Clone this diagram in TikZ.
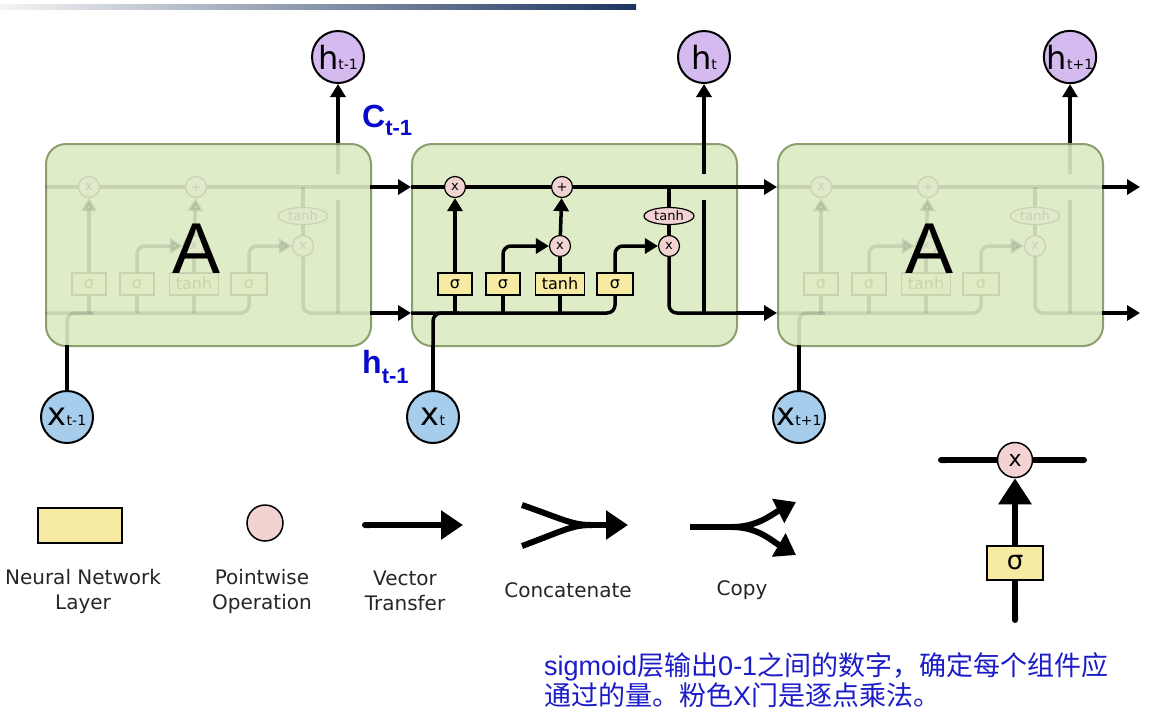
\documentclass[tikz,border=0pt]{standalone}
\usepackage{fontspec}
\setmainfont{DejaVu Sans}
\newfontfamily\arialfont{Liberation Sans}
\newfontfamily\cjkfont{Noto Sans CJK SC}
\usetikzlibrary{arrows.meta,shapes.geometric}
\definecolor{cellfill}{RGB}{222,236,200}
\definecolor{celledge}{RGB}{140,160,110}
\definecolor{layerfill}{RGB}{247,234,162}
\definecolor{opfill}{RGB}{243,210,210}
\definecolor{hfill}{RGB}{212,186,238}
\definecolor{xfill}{RGB}{166,205,236}
\definecolor{labelblue}{RGB}{10,10,205}
\definecolor{notetext}{RGB}{28,28,200}
\definecolor{barnavy}{RGB}{28,52,96}
\newcommand\circlabel[2]{{\fontsize{32}{32}\selectfont #1}{\fontsize{14}{14}\selectfont #2}}
\tikzset{
  flow/.style={line width=3.5pt},
  flowarr/.style={flow, -{Triangle[length=13pt,width=15pt]}},
  bigline/.style={line width=6pt},
  bigflow/.style={bigline, {Round Cap[]}-{Triangle[length=22pt,width=28pt]}},
  op/.style={circle, draw, line width=1.2pt, fill=opfill, minimum size=21pt,
    inner sep=0pt, font=\fontsize{13}{13}\selectfont},
  gate/.style={rectangle, draw, line width=1.2pt, fill=layerfill, minimum width=34pt,
    minimum height=22pt, inner sep=0pt, font=\fontsize{16}{16}\selectfont},
  tanhop/.style={ellipse, draw, line width=1.2pt, fill=opfill, minimum width=50pt,
    minimum height=17pt, inner sep=0pt, font=\fontsize{13}{13}\selectfont},
  cellbox/.style={draw=celledge, line width=2pt, fill=cellfill, rounded corners=20pt,
    minimum width=325pt, minimum height=202pt, anchor=north west, inner sep=0pt},
  hcirc/.style={circle, draw, line width=2pt, fill=hfill, minimum size=52pt, inner sep=0pt},
  xcirc/.style={circle, draw, line width=2pt, fill=xfill, minimum size=52pt, inner sep=0pt},
  biga/.style={font=\arialfont\fontsize{72}{72}\selectfont},
  steplabel/.style={text=labelblue, font=\arialfont\bfseries\fontsize{32}{32}\selectfont,
    inner sep=0pt, anchor=base west},
  legendtext/.style={align=center, text=black!85, font=\fontsize{20}{25}\selectfont},
  lstminner/.pic={
    \coordinate (-cin) at (0,44);
    \coordinate (-cout) at (325,44);
    \coordinate (-ctap) at (258,44);
    \coordinate (-hin) at (0,170);
    \coordinate (-hout) at (325,170);
    \coordinate (-xin) at (22,202);
    \coordinate (-xjoin) at (48,170);
    \coordinate (-ftap) at (44,170);
    \coordinate (-itap) at (92,170);
    \coordinate (-gtap) at (149,170);
    \coordinate (-htap) at (293,170);
    \coordinate (-hgap) at (293,57);
    \coordinate (-hres) at (293,31);
    \coordinate (-hup) at (293,0);
    \node[op] (-fmul) at (44,44) {x};
    \node[op] (-add) at (151,44) {+};
    \node[tanhop] (-tanhc) at (258,73) {tanh};
    \node[op] (-imul) at (149,103) {x};
    \node[op] (-omul) at (258,103) {x};
    \node[gate] (-fgate) at (44,141) {σ};
    \node[gate] (-igate) at (92,141) {σ};
    \node[gate, minimum width=49pt] (-cgate) at (149,141) {tanh};
    \node[gate, minimum width=36pt] (-ogate) at (204,141) {σ};
    % cell state
    \draw[flow] (-cin) -- (-fmul) -- (-add) -- (-cout);
    \draw[flow] (-ctap) -- (-tanhc) -- (-omul);
    \draw[flow, rounded corners=8pt] (-omul) |- (-hout);
    % hidden state in
    \draw[flow, rounded corners=8pt] (-hin) -| (-ogate);
    \draw[flow, rounded corners=8pt] (-xin) |- (-xjoin);
    \draw[flow] (-ftap) -- (-fgate);
    \draw[flow] (-itap) -- (-igate);
    \draw[flow] (-gtap) -- (-cgate);
    % gates
    \draw[flowarr] (-fgate) -- (-fmul);
    \draw[flowarr, rounded corners=8pt] (-igate) |- (-imul);
    \draw[flow] (-cgate) -- (-imul);
    \draw[flowarr] (-imul) -- (-add);
    \draw[flowarr, rounded corners=8pt] (-ogate) |- (-omul);
    % output
    \draw[flow] (-htap) -- (-hgap);
    \draw[flow] (-hres) -- (-hup);
  }
}

\begin{document}
\begin{tikzpicture}[x=1pt, y=-1pt]
  \useasboundingbox (0,0) rectangle (1175,724);
  \fill[white] (0,0) rectangle (1175,724);
  \shade[left color=black!4, right color=barnavy] (0,4) rectangle (636,9);

  % three cells
  \node[cellbox] (Lcell) at (45,143) {};
  \pic[opacity=0.1] (L) at (45,143) {lstminner};
  \node[biga] (LA) at (197,249) {A};
  \node[cellbox] (Mcell) at (411,143) {};
  \pic (M) at (411,143) {lstminner};
  \node[cellbox] (Rcell) at (777,143) {};
  \pic[opacity=0.1] (R) at (777,143) {lstminner};
  \node[biga] (RA) at (929,249) {A};

  \node[hcirc] (hL) at (338,57) {\circlabel{h}{t-1}};
  \node[hcirc] (hM) at (704,57) {\circlabel{h}{t}};
  \node[hcirc] (hR) at (1070,57) {\circlabel{h}{t+1}};
  \node[xcirc] (xL) at (67,417) {\circlabel{x}{t-1}};
  \node[xcirc] (xM) at (433,417) {\circlabel{x}{t}};
  \node[xcirc] (xR) at (799,417) {\circlabel{x}{t+1}};

  \draw[flowarr] (L-hup) -- (hL);
  \draw[flowarr] (M-hup) -- (hM);
  \draw[flowarr] (R-hup) -- (hR);
  \draw[flow] (xL) -- (L-xin);
  \draw[flow] (xM) -- (M-xin);
  \draw[flow] (xR) -- (R-xin);

  \coordinate (cend) at (1140,187);
  \coordinate (hend) at (1140,313);
  \draw[flowarr] (L-cout) -- (M-cin);
  \draw[flowarr] (L-hout) -- (M-hin);
  \draw[flowarr] (M-cout) -- (R-cin);
  \draw[flowarr] (M-hout) -- (R-hin);
  \draw[flowarr] (R-cout) -- (cend);
  \draw[flowarr] (R-hout) -- (hend);

  \node[steplabel] (clbl) at (362,127) {C\raisebox{-8pt}{\fontsize{22}{22}\selectfont t-1}};
  \node[steplabel] (hlbl) at (362,373) {h\raisebox{-10pt}{\fontsize{22}{22}\selectfont t-1}};

  % legend
  \node[gate, line width=2pt, minimum width=84pt, minimum height=35pt] (lgLayer) at (80,525) {};
  \node[op, line width=1.5pt, minimum size=36pt] (lgOp) at (265,523) {};
  \coordinate (vtA) at (362,525);
  \coordinate (vtB) at (463,525);
  \draw[bigflow] (vtA) -- (vtB);
  \coordinate (ccA) at (522,505);
  \coordinate (ccB) at (522,546);
  \coordinate (ccM) at (592,525);
  \coordinate (ccE) at (628,525);
  \draw[bigline] (ccA) .. controls (565,520) and (572,525) .. (ccM);
  \draw[bigline] (ccB) .. controls (565,530) and (572,525) .. (ccM);
  \draw[bigline, -{Triangle[length=22pt,width=28pt]}] (ccM) -- (ccE);
  \coordinate (cpA) at (690,527);
  \coordinate (cpM) at (732,527);
  \coordinate (cpU) at (796,502);
  \coordinate (cpD) at (796,555);
  \draw[bigline] (cpA) -- (cpM);
  \draw[bigline, -{Triangle[length=20pt,width=26pt]}] (cpM) .. controls (758,527) and (772,514) .. (cpU);
  \draw[bigline, -{Triangle[length=20pt,width=26pt]}] (cpM) .. controls (758,527) and (772,541) .. (cpD);
  \node[legendtext] (lgLayerTxt) at (83,591) {Neural Network\\Layer};
  \node[legendtext] (lgOpTxt) at (262,591) {Pointwise\\Operation};
  \node[legendtext] (lgVecTxt) at (405,591) {Vector\\Transfer};
  \node[legendtext] (lgCatTxt) at (568,590) {Concatenate};
  \node[legendtext] (lgCopyTxt) at (742,590) {Copy};

  % sigma gate demo
  \coordinate (sgL) at (938,460);
  \coordinate (sgR) at (1087,460);
  \coordinate (sgIn) at (1015,623);
  \node[op, line width=1.5pt, minimum size=35pt, font=\fontsize{22}{22}\selectfont] (sgMul) at (1015,460) {x};
  \node[gate, line width=1.5pt, minimum width=56pt, minimum height=34pt, font=\fontsize{26}{26}\selectfont] (sgGate) at (1015,563) {σ};
  \draw[bigline, {Round Cap[]}-] (sgL) -- (sgMul);
  \draw[bigline, -{Round Cap[]}] (sgMul) -- (sgR);
  \draw[bigline, {Round Cap[]}-] (sgIn) -- (sgGate);
  \draw[bigline, -{Triangle[length=26pt,width=32pt]}] (sgGate) -- (sgMul);

  \node[anchor=north west, align=left, inner sep=0pt, text=notetext,
    font=\cjkfont\fontsize{27}{30}\selectfont] (note) at (544,652)
    {{\arialfont sigmoid}层输出{\arialfont 0-1}之间的数字，确定每个组件应\\通过的量。粉色{\arialfont X}门是逐点乘法。};
\end{tikzpicture}
\end{document}
